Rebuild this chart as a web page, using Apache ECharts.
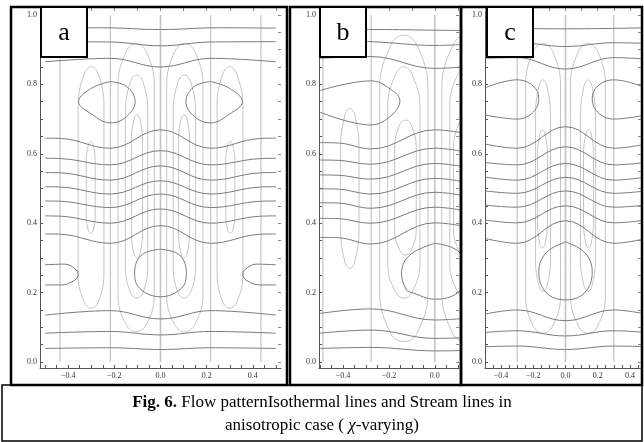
<!DOCTYPE html>
<html>
<head>
<meta charset="utf-8">
<script src="https://cdn.jsdelivr.net/npm/echarts@6/dist/echarts.min.js"></script>
<style>
  html, body { margin: 0; padding: 0; background: #fff; }
  #chart { width: 644px; height: 442px; }
</style>
</head>
<body>
<div id="chart"></div>
<script>
// ---- tick labels ----
var yLabels = [0, 0.2, 0.4, 0.6, 0.8, 1.0];
var xLabelsA = [-0.4, -0.2, 0, 0.2, 0.4];
var xLabelsB = [-0.4, -0.2, 0];
var xLabelsC = [-0.4, -0.2, 0, 0.2, 0.4];

// ---- panel a : isotherms (dark) ----
var aIsoLines = [
  [[-0.5,0.962],[-0.25,0.963],[0,0.958],[0.25,0.963],[0.5,0.962]],
  [[-0.5,0.923],[-0.217,0.922],[0,0.911],[0.217,0.922],[0.5,0.923]],
  [[-0.5,0.865],[-0.217,0.875],[0,0.85],[0.217,0.875],[0.5,0.865]],
  [[-0.5,0.645],[-0.43,0.644],[-0.217,0.616],[0,0.669],[0.217,0.616],[0.43,0.644],[0.5,0.645]],
  [[-0.5,0.587],[-0.43,0.586],[-0.217,0.568],[0,0.609],[0.217,0.568],[0.43,0.586],[0.5,0.587]],
  [[-0.5,0.546],[-0.43,0.545],[-0.217,0.524],[0,0.565],[0.217,0.524],[0.43,0.545],[0.5,0.546]],
  [[-0.5,0.505],[-0.43,0.504],[-0.217,0.484],[0,0.522],[0.217,0.484],[0.43,0.504],[0.5,0.505]],
  [[-0.5,0.464],[-0.43,0.463],[-0.217,0.445],[0,0.484],[0.217,0.445],[0.43,0.463],[0.5,0.464]],
  [[-0.5,0.421],[-0.43,0.42],[-0.217,0.40],[0,0.441],[0.217,0.40],[0.43,0.42],[0.5,0.421]],
  [[-0.5,0.369],[-0.43,0.368],[-0.217,0.342],[0,0.393],[0.217,0.342],[0.43,0.368],[0.5,0.369]],
  [[-0.5,0.135],[-0.217,0.148],[0,0.124],[0.217,0.148],[0.5,0.135]],
  [[-0.5,0.083],[-0.217,0.088],[0,0.078],[0.217,0.088],[0.5,0.083]],
  [[-0.5,0.039],[-0.217,0.041],[0,0.036],[0.217,0.041],[0.5,0.039]],
  [[-0.217,0.808],[-0.147,0.794],[-0.11,0.75],[-0.147,0.707],[-0.217,0.689],[-0.298,0.714],[-0.355,0.75],[-0.298,0.789],[-0.217,0.808]],
  [[0.217,0.808],[0.298,0.789],[0.355,0.75],[0.298,0.714],[0.217,0.689],[0.147,0.707],[0.11,0.75],[0.147,0.794],[0.217,0.808]],
  [[-0.5,0.28],[-0.415,0.282],[-0.364,0.265],[-0.357,0.251],[-0.371,0.236],[-0.43,0.222],[-0.5,0.222]],
  [[0.5,0.28],[0.415,0.282],[0.364,0.265],[0.357,0.251],[0.371,0.236],[0.43,0.222],[0.5,0.222]],
  [[0,0.325],[0.083,0.308],[0.112,0.256],[0.09,0.212],[0,0.188],[-0.09,0.212],[-0.112,0.256],[-0.083,0.308],[0,0.325]]
];
// ---- panel a : stream lines (light) ----
var aStreamX = [-0.435, -0.217, 0, 0.217, 0.435];
var aStreamLoops = [
  [[-0.184,0.5],[-0.184,0.80],[-0.148,0.895],[-0.105,0.918],[-0.062,0.895],[-0.027,0.80],[-0.027,0.5],[-0.027,0.19],[-0.062,0.107],[-0.105,0.087],[-0.148,0.107],[-0.184,0.19],[-0.184,0.5]],
  [[-0.152,0.5],[-0.152,0.72],[-0.13,0.808],[-0.103,0.827],[-0.076,0.808],[-0.055,0.72],[-0.055,0.5],[-0.055,0.27],[-0.076,0.2],[-0.103,0.184],[-0.13,0.2],[-0.152,0.27],[-0.152,0.5]],
  [[-0.126,0.5],[-0.126,0.64],[-0.114,0.702],[-0.102,0.712],[-0.09,0.702],[-0.078,0.64],[-0.078,0.5],[-0.078,0.37],[-0.09,0.31],[-0.102,0.30],[-0.114,0.31],[-0.126,0.37],[-0.126,0.5]],
  [[-0.357,0.5],[-0.357,0.74],[-0.33,0.83],[-0.30,0.851],[-0.27,0.83],[-0.245,0.74],[-0.245,0.5],[-0.245,0.25],[-0.27,0.172],[-0.30,0.155],[-0.33,0.172],[-0.357,0.25],[-0.357,0.5]],
  [[-0.322,0.5],[-0.322,0.58],[-0.312,0.627],[-0.302,0.635],[-0.292,0.627],[-0.283,0.58],[-0.283,0.5],[-0.283,0.42],[-0.292,0.378],[-0.302,0.371],[-0.312,0.378],[-0.322,0.42],[-0.322,0.5]],
  [[0.184,0.5],[0.184,0.80],[0.148,0.895],[0.105,0.918],[0.062,0.895],[0.027,0.80],[0.027,0.5],[0.027,0.19],[0.062,0.107],[0.105,0.087],[0.148,0.107],[0.184,0.19],[0.184,0.5]],
  [[0.152,0.5],[0.152,0.72],[0.13,0.808],[0.103,0.827],[0.076,0.808],[0.055,0.72],[0.055,0.5],[0.055,0.27],[0.076,0.2],[0.103,0.184],[0.13,0.2],[0.152,0.27],[0.152,0.5]],
  [[0.126,0.5],[0.126,0.64],[0.114,0.702],[0.102,0.712],[0.09,0.702],[0.078,0.64],[0.078,0.5],[0.078,0.37],[0.09,0.31],[0.102,0.30],[0.114,0.31],[0.126,0.37],[0.126,0.5]],
  [[0.357,0.5],[0.357,0.74],[0.33,0.83],[0.30,0.851],[0.27,0.83],[0.245,0.74],[0.245,0.5],[0.245,0.25],[0.27,0.172],[0.30,0.155],[0.33,0.172],[0.357,0.25],[0.357,0.5]],
  [[0.322,0.5],[0.322,0.58],[0.312,0.627],[0.302,0.635],[0.292,0.627],[0.283,0.58],[0.283,0.5],[0.283,0.42],[0.292,0.378],[0.302,0.371],[0.312,0.378],[0.322,0.42],[0.322,0.5]]
];

// ---- panel b ----
var bIsoLines = [
  [[-0.5,0.958],[-0.25,0.958],[0,0.956],[0.12,0.955]],
  [[-0.5,0.925],[-0.277,0.923],[0,0.912],[0.12,0.915]],
  [[-0.5,0.875],[-0.277,0.88],[0,0.846],[0.12,0.85]],
  [[-0.5,0.782],[-0.277,0.81],[-0.19,0.785],[-0.152,0.753],[-0.19,0.71],[-0.277,0.683],[-0.5,0.72]],
  [[-0.5,0.632],[-0.42,0.631],[-0.277,0.614],[0,0.669],[0.12,0.66]],
  [[-0.5,0.582],[-0.42,0.581],[-0.277,0.570],[0,0.616],[0.12,0.607]],
  [[-0.5,0.539],[-0.42,0.538],[-0.277,0.527],[0,0.572],[0.12,0.563]],
  [[-0.5,0.499],[-0.42,0.498],[-0.277,0.484],[0,0.529],[0.12,0.52]],
  [[-0.5,0.459],[-0.42,0.458],[-0.277,0.443],[0,0.489],[0.12,0.48]],
  [[-0.5,0.414],[-0.42,0.413],[-0.277,0.40],[0,0.446],[0.12,0.437]],
  [[-0.5,0.359],[-0.42,0.358],[-0.277,0.34],[0,0.401],[0.12,0.392]],
  [[-0.5,0.14],[-0.277,0.153],[0,0.121],[0.12,0.125]],
  [[-0.5,0.083],[-0.277,0.092],[0,0.068],[0.12,0.07]],
  [[-0.5,0.039],[-0.277,0.042],[0,0.032],[0.12,0.033]],
  [[0,0.342],[0.1,0.32],[0.145,0.256],[0.1,0.2],[0,0.181],[-0.1,0.2],[-0.123,0.207],[-0.145,0.256],[-0.109,0.308],[0,0.342]]
];
var bStreamX = [-0.487, -0.277, 0];
var bStreamLoops = [
  [[-0.41,0.5],[-0.41,0.62],[-0.39,0.715],[-0.37,0.731],[-0.35,0.715],[-0.33,0.62],[-0.33,0.5],[-0.33,0.38],[-0.35,0.285],[-0.37,0.27],[-0.39,0.285],[-0.41,0.38],[-0.41,0.5]],
  [[-0.24,0.5],[-0.24,0.79],[-0.19,0.915],[-0.135,0.942],[-0.08,0.915],[-0.03,0.79],[-0.03,0.5],[-0.03,0.2],[-0.08,0.08],[-0.135,0.059],[-0.19,0.08],[-0.24,0.2],[-0.24,0.5]],
  [[-0.205,0.5],[-0.205,0.74],[-0.17,0.83],[-0.135,0.851],[-0.1,0.83],[-0.065,0.74],[-0.065,0.5],[-0.065,0.28],[-0.1,0.2],[-0.135,0.184],[-0.17,0.2],[-0.205,0.28],[-0.205,0.5]],
  [[-0.175,0.5],[-0.175,0.62],[-0.152,0.685],[-0.128,0.697],[-0.104,0.685],[-0.081,0.62],[-0.081,0.5],[-0.081,0.38],[-0.104,0.32],[-0.128,0.308],[-0.152,0.32],[-0.175,0.38],[-0.175,0.5]],
  [[0.24,0.5],[0.24,0.79],[0.19,0.915],[0.135,0.942],[0.08,0.915],[0.03,0.79],[0.03,0.5],[0.03,0.2],[0.08,0.08],[0.135,0.059],[0.19,0.08],[0.24,0.2],[0.24,0.5]],
  [[0.205,0.5],[0.205,0.74],[0.17,0.83],[0.135,0.851],[0.1,0.83],[0.065,0.74],[0.065,0.5],[0.065,0.28],[0.1,0.2],[0.135,0.184],[0.17,0.2],[0.205,0.28],[0.205,0.5]],
  [[0.175,0.5],[0.175,0.62],[0.152,0.685],[0.128,0.697],[0.104,0.685],[0.081,0.62],[0.081,0.5],[0.081,0.38],[0.104,0.32],[0.128,0.308],[0.152,0.32],[0.175,0.38],[0.175,0.5]]
];

// ---- panel c ----
var cIsoLines = [
  [[-0.5,0.962],[0,0.96],[0.5,0.963]],
  [[-0.5,0.918],[-0.3,0.92],[0,0.909],[0.3,0.92],[0.5,0.918]],
  [[-0.5,0.875],[-0.3,0.877],[0,0.844],[0.3,0.877],[0.5,0.873]],
  [[-0.5,0.79],[-0.3,0.813],[-0.2,0.795],[-0.166,0.76],[-0.2,0.72],[-0.3,0.70],[-0.5,0.712]],
  [[0.5,0.79],[0.3,0.813],[0.2,0.795],[0.166,0.76],[0.2,0.72],[0.3,0.70],[0.5,0.712]],
  [[-0.5,0.628],[-0.3,0.616],[0,0.678],[0.3,0.616],[0.5,0.628]],
  [[-0.5,0.575],[-0.3,0.568],[0,0.62],[0.3,0.568],[0.5,0.575]],
  [[-0.5,0.533],[-0.3,0.524],[0,0.572],[0.3,0.524],[0.5,0.533]],
  [[-0.5,0.493],[-0.3,0.486],[0,0.532],[0.3,0.486],[0.5,0.493]],
  [[-0.5,0.452],[-0.3,0.446],[0,0.493],[0.3,0.446],[0.5,0.452]],
  [[-0.5,0.409],[-0.3,0.401],[0,0.45],[0.3,0.401],[0.5,0.409]],
  [[-0.5,0.356],[-0.3,0.342],[0,0.407],[0.3,0.342],[0.5,0.356]],
  [[-0.5,0.138],[-0.3,0.15],[0,0.119],[0.3,0.15],[0.5,0.138]],
  [[-0.5,0.085],[-0.3,0.09],[0,0.075],[0.3,0.09],[0.5,0.085]],
  [[-0.5,0.044],[-0.3,0.046],[0,0.036],[0.3,0.046],[0.5,0.044]],
  [[0,0.346],[0.12,0.315],[0.166,0.26],[0.12,0.2],[0,0.179],[-0.12,0.2],[-0.166,0.26],[-0.12,0.315],[0,0.346]]
];
var cStreamX = [-0.3, 0, 0.3];
var cStreamLoops = [
  [[-0.248,0.5],[-0.248,0.80],[-0.2,0.895],[-0.14,0.918],[-0.08,0.895],[-0.031,0.80],[-0.031,0.5],[-0.031,0.19],[-0.08,0.103],[-0.14,0.083],[-0.2,0.103],[-0.248,0.19],[-0.248,0.5]],
  [[-0.186,0.5],[-0.186,0.71],[-0.165,0.795],[-0.14,0.813],[-0.115,0.795],[-0.093,0.71],[-0.093,0.5],[-0.093,0.29],[-0.115,0.22],[-0.14,0.203],[-0.165,0.22],[-0.186,0.29],[-0.186,0.5]],
  [[-0.174,0.5],[-0.174,0.6],[-0.158,0.66],[-0.143,0.669],[-0.128,0.66],[-0.112,0.6],[-0.112,0.5],[-0.112,0.4],[-0.128,0.338],[-0.143,0.329],[-0.158,0.338],[-0.174,0.4],[-0.174,0.5]],
  [[0.248,0.5],[0.248,0.80],[0.2,0.895],[0.14,0.918],[0.08,0.895],[0.031,0.80],[0.031,0.5],[0.031,0.19],[0.08,0.103],[0.14,0.083],[0.2,0.103],[0.248,0.19],[0.248,0.5]],
  [[0.186,0.5],[0.186,0.71],[0.165,0.795],[0.14,0.813],[0.115,0.795],[0.093,0.71],[0.093,0.5],[0.093,0.29],[0.115,0.22],[0.14,0.203],[0.165,0.22],[0.186,0.29],[0.186,0.5]],
  [[0.174,0.5],[0.174,0.6],[0.158,0.66],[0.143,0.669],[0.128,0.66],[0.112,0.6],[0.112,0.5],[0.112,0.4],[0.128,0.338],[0.143,0.329],[0.158,0.338],[0.174,0.4],[0.174,0.5]]
];

var ISO = '#7a7a7a', STREAM = '#c4c4c4', AXIS = '#555';
var FONT = '"Liberation Serif", serif';

var chart = echarts.init(document.getElementById('chart'), null, {renderer: 'canvas'});

var panels = [
  {grid: {left: 40, top: 8, width: 241, height: 360}, xmin: -0.522, xmax: 0.522, labels: xLabelsA,
   iso: aIsoLines, loops: aStreamLoops, vx: aStreamX},
  {grid: {left: 319, top: 8, width: 140, height: 360}, xmin: -0.504, xmax: 0.105, labels: xLabelsB,
   iso: bIsoLines, loops: bStreamLoops, vx: bStreamX},
  {grid: {left: 485, top: 8, width: 156, height: 360}, xmin: -0.5, xmax: 0.469, labels: xLabelsC,
   iso: cIsoLines, loops: cStreamLoops, vx: cStreamX}
];

function steps(lo, hi, d) {
  var out = [];
  for (var v = Math.ceil(lo / d - 1e-9) * d; v <= hi + 1e-9; v += d) out.push(+v.toFixed(3));
  return out;
}
function fmtX(v) { return (v < 0 ? '\u2212' : '') + Math.abs(v).toFixed(1); }

var grids = [], xAxes = [], yAxes = [], series = [];
panels.forEach(function (p, g) {
  grids.push(p.grid);
  xAxes.push({
    gridIndex: g, type: 'value', position: 'bottom', min: p.xmin, max: p.xmax,
    axisLine: {show: true, onZero: false, lineStyle: {color: AXIS, width: 1}},
    axisTick: {show: true, inside: true, length: 3, customValues: steps(p.xmin, p.xmax, 0.05), lineStyle: {color: AXIS}},
    axisLabel: {customValues: p.labels, formatter: fmtX, fontSize: 8, fontFamily: FONT, color: '#333', margin: 4},
    splitLine: {show: false}
  });
  xAxes.push({
    gridIndex: g, type: 'value', position: 'top', min: p.xmin, max: p.xmax,
    axisLine: {show: false, onZero: false}, axisLabel: {show: false}, splitLine: {show: false},
    axisTick: {show: true, inside: true, length: 3, customValues: steps(p.xmin, p.xmax, 0.1), lineStyle: {color: '#888'}}
  });
  yAxes.push({
    gridIndex: g, type: 'value', position: 'left', min: -0.0173, max: 1.02,
    axisLine: {show: true, onZero: false, lineStyle: {color: AXIS, width: 1}},
    axisTick: {show: true, inside: true, length: 3, customValues: steps(0, 1, 0.05), lineStyle: {color: AXIS}},
    axisLabel: {customValues: yLabels, formatter: function (v) { return v.toFixed(1); }, fontSize: 8, fontFamily: FONT, color: '#333', margin: 3},
    splitLine: {show: false}
  });
  yAxes.push({
    gridIndex: g, type: 'value', position: 'right', min: -0.0173, max: 1.02,
    axisLine: {show: false, onZero: false}, axisLabel: {show: false}, splitLine: {show: false},
    axisTick: {show: true, inside: true, length: 3, customValues: steps(0, 1, 0.05), lineStyle: {color: '#888'}}
  });
  function add(data, color, width, z) {
    series.push({
      type: 'line', xAxisIndex: g * 2, yAxisIndex: g * 2, data: data, smooth: 0.4,
      symbol: 'none', showSymbol: false, silent: true, animation: false, clip: true, z: z,
      lineStyle: {color: color, width: width}
    });
  }
  p.vx.forEach(function (x) { add([[x, 0], [x, 1]], STREAM, x === 0 ? 1.6 : 1.2, 2); });
  p.loops.forEach(function (d) { add(d, STREAM, 1, 2); });
  p.iso.forEach(function (d) { add(d, ISO, 1, 3); });
});

function box(x, y, w, h, lw) {
  return {type: 'rect', z: 100, shape: {x: x, y: y, width: w, height: h},
          style: {fill: 'none', stroke: '#000', lineWidth: lw}};
}
function tag(x, y, letter) {
  return {type: 'group', z: 100, children: [
    {type: 'rect', z: 100, shape: {x: x, y: y, width: 46, height: 50}, style: {fill: '#fff', stroke: '#000', lineWidth: 2}},
    {type: 'text', z: 101, style: {x: x + 23, y: y + 26, text: letter, align: 'center', verticalAlign: 'middle',
      font: '26px "Liberation Serif", serif', fill: '#000'}}
  ]};
}

chart.setOption({
  animation: false,
  grid: grids, xAxis: xAxes, yAxis: yAxes, series: series,
  graphic: [
    box(11, 7, 276, 378, 2.5),
    box(290, 7, 171, 378, 2.5),
    box(461, 7, 181, 378, 2.5),
    box(2, 385, 640, 56, 1.5),
    tag(41, 7, 'a'), tag(320, 7, 'b'), tag(487, 7, 'c'),
    {type: 'text', z: 100, style: {x: 322, y: 403, align: 'center', verticalAlign: 'middle',
      text: '{b|Fig. 6.}{n| Flow patternIsothermal lines and Stream lines in}',
      rich: {b: {fontFamily: 'Liberation Serif', fontSize: 17, fontWeight: 'bold', fill: '#000'},
             n: {fontFamily: 'Liberation Serif', fontSize: 17, fill: '#000'}}}},
    {type: 'text', z: 100, style: {x: 322, y: 426, align: 'center', verticalAlign: 'middle',
      text: '{n|anisotropic case ( }{i|\u03c7}{n|-varying)}',
      rich: {i: {fontFamily: 'Liberation Serif', fontSize: 17, fontStyle: 'italic', fill: '#000'},
             n: {fontFamily: 'Liberation Serif', fontSize: 17, fill: '#000'}}}}
  ]
});
</script>
</body>
</html>
